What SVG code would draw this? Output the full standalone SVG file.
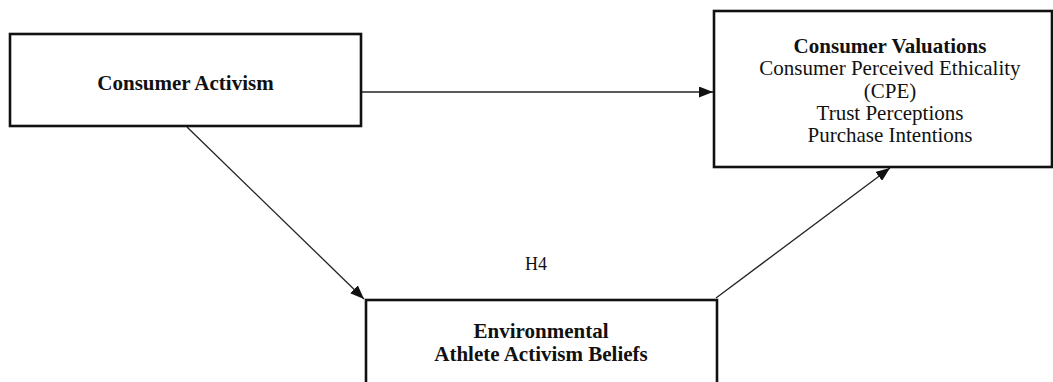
<svg xmlns="http://www.w3.org/2000/svg" width="1053" height="382" viewBox="0 0 1053 382">
<style>
.box{fill:#fff;stroke:#111;stroke-width:2.6}
.t{font-family:"Liberation Serif","Times New Roman",serif;fill:#111;text-anchor:middle}
.b{font-weight:bold;font-size:21px}
.n{font-size:21px}
.c{stroke:#222;stroke-width:1.3;fill:none}
</style>
<defs>
<marker id="ah" viewBox="0 0 14 11" refX="14" refY="5.5" markerWidth="14" markerHeight="11" markerUnits="userSpaceOnUse" orient="auto">
<path d="M0,0 L14,5.5 L0,11 Z" fill="#111"/>
</marker>
</defs>
<rect width="1053" height="382" fill="#fff"/>
<g id="connectors">
<line class="c" x1="362" y1="92" x2="713" y2="92" marker-end="url(#ah)"/>
<line class="c" x1="187" y1="127" x2="364" y2="299" marker-end="url(#ah)"/>
<line class="c" x1="716" y1="298" x2="890" y2="168" marker-end="url(#ah)"/>
</g>
<g id="consumer-activism">
<rect class="box" x="10" y="34" width="351" height="92"/>
<text class="t b" x="185.5" y="90">Consumer Activism</text>
</g>
<g id="consumer-valuations">
<rect class="box" x="714" y="11" width="338" height="156"/>
<text class="t b" x="890" y="53">Consumer Valuations</text>
<text class="t n" x="890" y="75">Consumer Perceived Ethicality</text>
<text class="t n" x="890" y="97.5">(CPE)</text>
<text class="t n" x="890" y="120">Trust Perceptions</text>
<text class="t n" x="890" y="142">Purchase Intentions</text>
</g>
<g id="athlete-activism">
<rect class="box" x="366" y="300" width="351" height="100"/>
<text class="t b" x="541" y="338">Environmental</text>
<text class="t b" x="541" y="361">Athlete Activism Beliefs</text>
</g>
<g id="h4-label">
<text class="t" x="536" y="270" font-size="18">H4</text>
</g>
</svg>
